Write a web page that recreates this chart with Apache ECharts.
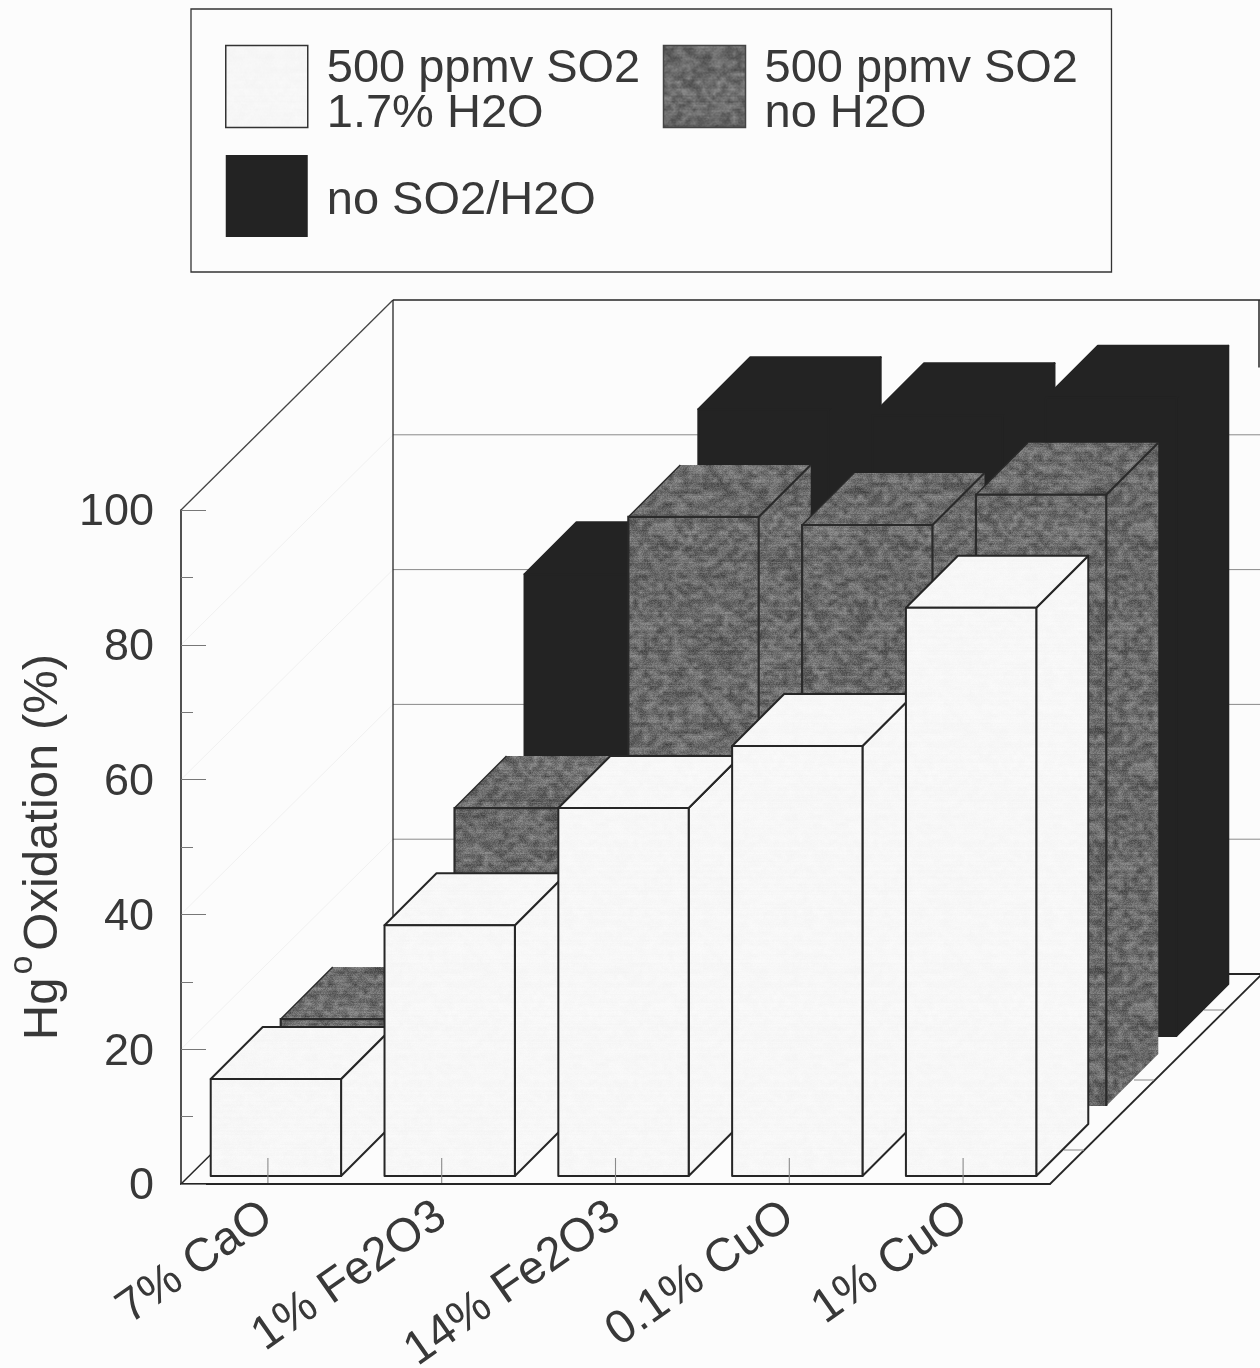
<!DOCTYPE html>
<html>
<head>
<meta charset="utf-8">
<style>html,body{margin:0;padding:0;background:#fcfcfc}#chart{width:1260px;height:1368px}</style>
<script src="https://cdn.jsdelivr.net/npm/echarts@6/dist/echarts.min.js"></script>
</head>
<body>
<div id="chart"></div>
<script>
// Hg0 oxidation over sorbents, three gas conditions, drawn as an oblique 3-D bar chart.
const categories = ['7% CaO', '1% Fe2O3', '14% Fe2O3', '0.1% CuO', '1% CuO'];
const yTicks = [20, 40, 60, 80];
const humidSO2 = [14.4, 37.2, 54.6, 63.8, 84.3];
const drySO2 = [12.9, 44.2, 87.4, 86.2, 90.7];
const noSO2 = [null, 68.5, 93.0, 92.1, 94.7];
const names = ['500 ppmv SO2\n1.7% H2O', '500 ppmv SO2\nno H2O', 'no SO2/H2O'];

// Oblique projection (px per unit of depth along the floor diagonal)
const ROW_STEP = 70, ROW_START = 8, BAR_DEPTH = 52, WALL_DEPTH_X = 212, WALL_DEPTH_Y = 210;
const BAR_RATIO = 0.75;
const INK = '#262626';

// Deterministic print-like grain used as a repeating fill
function grain(base, coarse, fine, streak) {
  const size = 240, c = document.createElement('canvas');
  c.width = c.height = size;
  const ctx = c.getContext('2d'), img = ctx.createImageData(size, size);
  const hash = (x, y) => {
    let h = (x * 374761393 + y * 668265263) | 0;
    h = Math.imul(h ^ (h >>> 13), 1274126177);
    return (((h ^ (h >>> 16)) >>> 0) % 1000) / 1000 - 0.5;
  };
  const cellX = 5, cellY = 4;
  const nx = size / cellX | 0, ny = size / cellY | 0;
  const node = (x, y) => hash(x % nx, y % ny);
  for (let y = 0; y < size; y++) {
    const rowShade = hash(y + 17, 3) * streak;
    for (let x = 0; x < size; x++) {
      const fx = x / size * nx, fy = y / size * ny;
      const ix = Math.floor(fx), iy = Math.floor(fy), tx = fx - ix, ty = fy - iy;
      const a = node(ix, iy) * (1 - tx) + node(ix + 1, iy) * tx;
      const b = node(ix, iy + 1) * (1 - tx) + node(ix + 1, iy + 1) * tx;
      const v = base + (a * (1 - ty) + b * ty) * coarse + hash(x, y) * fine + rowShade;
      const i = (y * size + x) * 4;
      img.data[i] = img.data[i + 1] = img.data[i + 2] = Math.max(0, Math.min(255, v));
      img.data[i + 3] = 255;
    }
  }
  ctx.putImageData(img, 0, 0);
  return { image: c, repeat: 'repeat' };
}

const whiteFill = grain(247, 3, 3, 2);
const grayFill = grain(106, 52, 30, 16);
const blackFill = '#232323';

function barRenderer(row, fill, stroke, edgesOnly) {
  return function (params, api) {
    const cat = api.value(0), val = api.value(1);
    if (val == null || isNaN(val)) return;
    const w = api.size([1, 0])[0] * BAR_RATIO;
    const d = ROW_START + row * ROW_STEP;
    const base = api.coord([cat, 0]), top = api.coord([cat, val]);
    const xl = base[0] - w / 2 + d, xr = xl + w;
    const yb = base[1] - d, yt = top[1] - d;
    const D = BAR_DEPTH;
    const faceStyle = { fill: fill, stroke: edgesOnly ? null : stroke, lineWidth: 2, lineJoin: 'round' };
    const poly = pts => ({ type: 'polygon', shape: { points: pts }, style: faceStyle });
    const children = [
      poly([[xr, yb], [xr + D, yb - D], [xr + D, yt - D], [xr, yt]]),
      poly([[xl, yt], [xl + D, yt - D], [xr + D, yt - D], [xr, yt]]),
      poly([[xl, yb], [xr, yb], [xr, yt], [xl, yt]])
    ];
    if (edgesOnly) {
      children.push({
        type: 'polyline',
        shape: { points: [[xl, yb], [xl, yt], [xr, yt], [xr, yb]] },
        style: { fill: null, stroke: stroke, lineWidth: 2.2 }
      }, {
        type: 'line',
        shape: { x1: xr, y1: yt, x2: xr + D, y2: yt - D },
        style: { stroke: stroke, lineWidth: 2.2 }
      }, {
        type: 'line',
        shape: { x1: xl, y1: yt, x2: xl + D, y2: yt - D },
        style: { stroke: stroke, lineWidth: 1.4 }
      });
    }
    return { type: 'group', children: children };
  };
}

function segment(a, b, color, width) {
  return {
    type: 'line',
    shape: { x1: a[0], y1: a[1], x2: b[0], y2: b[1] },
    style: { stroke: color, lineWidth: width }
  };
}

function wallRenderer(params, api) {
  const back = p => [p[0] + WALL_DEPTH_X, p[1] - WALL_DEPTH_Y];
  const ax = api.getWidth() - 1;
  const slot = api.size([1, 0])[0];
  const frontLeft = v => { const p = api.coord([0, v]); return [p[0] - slot / 2, p[1]]; };
  const frontRight = v => { const p = api.coord([categories.length - 1, v]); return [p[0] + slot / 2, p[1]]; };
  const backLeft = v => back(frontLeft(v));
  const backRight = v => back(frontRight(v));
  const kids = [];
  // side wall: faint level lines running back from the front axis
  yTicks.forEach(v => {
    kids.push(segment(frontLeft(v), backLeft(v), '#f1f1f1', 1));
    kids.push(segment(backLeft(v), backRight(v), '#8a8a8a', 1));
  });
  // wall and floor frame
  kids.push(segment(frontLeft(100), backLeft(100), '#444', 1.3));
  kids.push(segment(backLeft(100), backRight(100), INK, 1.5));
  kids.push(segment(backLeft(100), backLeft(0), INK, 1.3));
  kids.push(segment(backLeft(0), backRight(0), INK, 1.8));
  kids.push(segment(frontLeft(0), backLeft(0), INK, 1.5));
  kids.push(segment(frontRight(0), backRight(0), INK, 1.8));
  kids.push(segment([ax, backRight(100)[1]], [ax, backRight(90)[1]], INK, 1.5));
  // depth ticks on the floor edge, one per row
  [34, 104, 174].forEach(d => {
    const p = frontRight(0);
    const e = [p[0] + d, p[1] - d];
    kids.push(segment([e[0] - 20, e[1]], e, '#999', 1.2));
  });
  return { type: 'group', children: kids };
}

// Category ticks stand on the front edge and stay visible across the nearest row
function frontTickRenderer(params, api) {
  const p = api.coord([api.value(0), 0]);
  return segment([p[0], p[1]], [p[0], p[1] - 26], '#8a8a8a', 1.1);
}

const indexed = values => values.map((v, i) => [i, v]);
const labelFont = { fontFamily: 'Liberation Sans', fontSize: 46, color: '#383838' };

const option = {
  animation: false,
  backgroundColor: '#fcfcfc',
  legend: {
    left: 191, top: 9,
    width: 920,
    orient: 'horizontal',
    selectedMode: false,
    padding: [32, 24, 35, 34],
    itemGap: 13,
    itemWidth: 82, itemHeight: 82,
    backgroundColor: '#fcfcfc',
    borderColor: '#333',
    borderWidth: 1.3,
    // a thin spacer line sits the label below the swatch centre and fixes its column width
    formatter: name => '{s| }\n' + name.split('\n').map(l => '{t|' + l + '}').join('\n'),
    textStyle: {
      padding: [0, 0, 0, 14],
      rich: {
        s: { fontSize: 1, lineHeight: 10, width: 323 },
        t: { ...labelFont, fontSize: 47, lineHeight: 45 }
      }
    },
    data: [
      { name: names[0], icon: 'rect', itemStyle: { color: whiteFill, borderColor: '#333', borderWidth: 1.5 } },
      { name: names[1], icon: 'rect', itemStyle: { color: grayFill, borderColor: '#444', borderWidth: 1.5 } },
      { name: names[2], icon: 'rect', itemStyle: { color: blackFill, borderWidth: 0 } }
    ]
  },
  grid: { left: 181, top: 510, width: 869, height: 674, outerBoundsMode: 'none' },
  xAxis: {
    type: 'category',
    data: categories,
    z: 10,
    axisLine: { lineStyle: { color: INK, width: 2 } },
    axisTick: { show: false },
    axisLabel: { ...labelFont, fontSize: 47, rotate: 35, margin: 28, interval: 0 }
  },
  yAxis: {
    type: 'value',
    min: 0, max: 100, interval: 20,
    z: 10,
    name: '{a|Hg}{b|o}{a|Oxidation (%)}',
    nameLocation: 'middle',
    nameGap: 96,
    nameRotate: 90,
    nameTextStyle: {
      rich: {
        a: { ...labelFont, fontSize: 49, lineHeight: 76 },
        b: { fontFamily: 'Liberation Sans', fontSize: 34, color: '#383838', verticalAlign: 'top', lineHeight: 34, padding: [0, 5, 0, 3] }
      }
    },
    axisLine: { show: true, lineStyle: { color: INK, width: 1.6 } },
    axisTick: { show: true, inside: true, length: 25, lineStyle: { color: '#777', width: 1 } },
    minorTick: { show: true, splitNumber: 2, length: 12, lineStyle: { color: '#777', width: 1 } },
    axisLabel: {
      margin: 27,
      formatter: v => '{t|' + v + '}',
      rich: { t: { ...labelFont, fontSize: 45, padding: [6, 0, 0, 0] } }
    },
    splitLine: { show: false }
  },
  series: [
    { type: 'custom', name: 'frame', data: [[0, 0]], z: 1, silent: true, renderItem: wallRenderer },
    { type: 'custom', name: names[2], data: indexed(noSO2), z: 2, renderItem: barRenderer(2, blackFill, blackFill, false) },
    { type: 'custom', name: names[1], data: indexed(drySO2), z: 3, renderItem: barRenderer(1, grayFill, '#2a2a2a', true) },
    { type: 'custom', name: names[0], data: indexed(humidSO2), z: 4, renderItem: barRenderer(0, whiteFill, INK, false) },
    { type: 'custom', name: 'ticks', data: categories.map((c, i) => [i, 0]), z: 5, silent: true, renderItem: frontTickRenderer }
  ]
};

const chart = echarts.init(document.getElementById('chart'), null, { renderer: 'canvas' });
chart.setOption(option);
</script>
</body>
</html>
